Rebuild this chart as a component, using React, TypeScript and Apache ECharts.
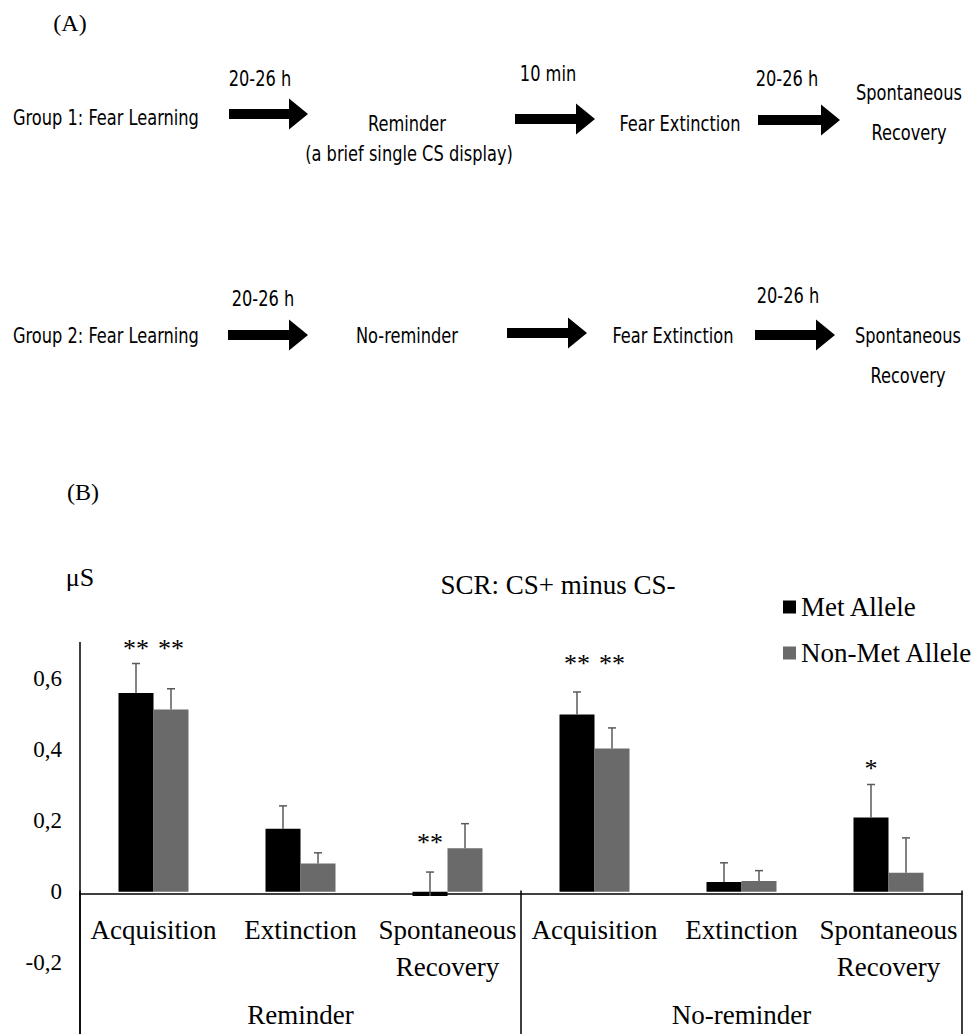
import React, { useEffect, useRef } from "react";
import * as echarts from "echarts";

// ---------- data ----------
const categories = [
  "Acquisition",
  "Extinction",
  "Spontaneous\nRecovery",
  "Acquisition",
  "Extinction",
  "Spontaneous\nRecovery",
];
const groups = ["Reminder", "No-reminder"];
const seriesNames = ["Met Allele", "Non-Met Allele"];
const metValues = [0.558, 0.177, -0.012, 0.498, 0.027, 0.208];
const metErrors = [0.083, 0.064, 0.067, 0.063, 0.054, 0.093];
const nonMetValues = [0.512, 0.079, 0.122, 0.402, 0.03, 0.053];
const nonMetErrors = [0.058, 0.03, 0.069, 0.058, 0.029, 0.098];
// significance markers
const starCats = [0, 0, 2, 3, 3, 5];
const starSeries = [0, 1, 0, 0, 1, 0];
const starLevels = [0.684, 0.684, 0.138, 0.642, 0.642, 0.345];
const starTexts = ["**", "**", "**", "**", "**", "*"];
const yTickValues = [-0.2, 0, 0.2, 0.4, 0.6];
const yTickLabels = ["-0,2", "0", "0,2", "0,4", "0,6"];
const yMin = -0.4;
const yMax = 0.7;

// diagram texts
const row1Steps = ["Group 1: Fear Learning", "Reminder", "(a brief single CS display)", "Fear Extinction", "Spontaneous", "Recovery"];
const row1Delays = ["20-26 h", "10 min", "20-26 h"];
const row2Steps = ["Group 2: Fear Learning", "No-reminder", "Fear Extinction", "Spontaneous", "Recovery"];
const row2Delays = ["20-26 h", "20-26 h"];

// ---------- layout / style ----------
const SERIF = "'Liberation Serif', 'Times New Roman', serif";
const SANS = "'Liberation Sans Narrow', 'DejaVu Sans Condensed', 'Roboto', sans-serif";
const SANS_SIZE = 22;
const SANS_SCALE = 0.82;
const BAR_W = 35;
const GRID_LEFT = 80;
const GRID_TOP = 642.5;
const GRID_W = 882;
const GRID_H = 394.5;
const COLORS = ["#000000", "#6a6a6a"];
const ERR_COLOR = "#5a5a5a";

function arrow(x0: number, x1: number, cy: number) {
  const hl = 19;
  const sh = 5;
  const hh = 15.5;
  return {
    type: "polygon",
    shape: {
      points: [
        [x0, cy - sh],
        [x1 - hl, cy - sh],
        [x1 - hl, cy - hh],
        [x1, cy],
        [x1 - hl, cy + hh],
        [x1 - hl, cy + sh],
        [x0, cy + sh],
      ],
    },
    style: { fill: "#000" },
  };
}

function txt(text: string, x: number, y: number, size: number, family: string, align = "center", scaleX = 1) {
  return {
    type: "text",
    x,
    y,
    scaleX,
    style: {
      text,
      fill: "#000",
      fontSize: size,
      fontFamily: family,
      align,
      verticalAlign: "middle",
      textAlign: align,
      textVerticalAlign: "middle",
    },
  };
}

function sans(text: string, x: number, y: number, align = "center") {
  return txt(text, x, y, SANS_SIZE, SANS, align, SANS_SCALE);
}

export default function App() {
  const ref = useRef<HTMLDivElement>(null);
  useEffect(() => {
    if (!ref.current) return;
    const chart = echarts.init(ref.current, undefined, { renderer: "svg" });

    const errorData: number[][] = [];
    metValues.forEach((v, i) => errorData.push([i, v, metErrors[i], -1]));
    nonMetValues.forEach((v, i) => errorData.push([i, v, nonMetErrors[i], 1]));
    const starData = starCats.map((c, i) => [c, starLevels[i], starSeries[i] === 0 ? -1 : 1, i]);

    const zeroFrac = yMax / (yMax - yMin);

    const option: any = {
      animation: false,
      backgroundColor: "#fff",
      graphic: [
        txt("(A)", 70, 23, 24, SERIF),
        sans(row1Steps[0], 13, 117, "left"),
        sans(row1Delays[0], 260, 78),
        arrow(229, 308, 114),
        sans(row1Steps[1], 407, 123),
        sans(row1Steps[2], 409, 153),
        sans(row1Delays[1], 548, 73),
        arrow(515, 595, 119),
        sans(row1Steps[3], 680, 123),
        sans(row1Delays[2], 787, 78),
        arrow(758, 840, 120),
        sans(row1Steps[4], 909, 92),
        sans(row1Steps[5], 909, 132),

        sans(row2Steps[0], 13, 335, "left"),
        sans(row2Delays[0], 263, 298),
        arrow(228, 308, 335),
        sans(row2Steps[1], 407, 335),
        arrow(507, 587, 333),
        sans(row2Steps[2], 673, 335),
        sans(row2Delays[1], 788, 295),
        arrow(755, 835, 335),
        sans(row2Steps[3], 908, 335),
        sans(row2Steps[4], 908, 375),

        txt("(B)", 83, 492, 24, SERIF),
        txt("μS", 80, 577, 26, SERIF),
        txt("SCR: CS+ minus CS-", 558, 585, 27, SERIF),
      ],
      legend: {
        data: seriesNames,
        orient: "vertical",
        left: 778,
        top: 587,
        icon: "rect",
        itemWidth: 13,
        itemHeight: 13,
        itemGap: 16,
        textStyle: { fontFamily: SERIF, fontSize: 27, color: "#000", lineHeight: 30 },
      },
      grid: { left: GRID_LEFT, top: GRID_TOP, width: GRID_W, height: GRID_H },
      xAxis: [
        {
          type: "category",
          data: categories,
          position: "top",
          offset: -GRID_H * zeroFrac,
          axisLine: { show: true, onZero: false, lineStyle: { color: "#000", width: 1.5 } },
          axisTick: { show: false },
          splitLine: { show: false },
          axisLabel: {
            inside: true,
            margin: 18,
            interval: 0,
            color: "#000",
            fontFamily: SERIF,
            fontSize: 27,
            lineHeight: 37,
          },
        },
        {
          type: "category",
          data: groups,
          position: "bottom",
          offset: -GRID_H * (1 - zeroFrac),
          axisLine: { show: false, onZero: false },
          axisTick: { show: true, length: 160, lineStyle: { color: "#000", width: 1.5 } },
          splitLine: { show: false },
          axisLabel: {
            margin: 106,
            interval: 0,
            color: "#000",
            fontFamily: SERIF,
            fontSize: 27,
            lineHeight: 37,
          },
        },
      ],
      yAxis: {
        type: "value",
        min: yMin,
        max: yMax,
        interval: 0.2,
        axisLine: { show: true, lineStyle: { color: "#000", width: 1.5 } },
        axisTick: { show: false },
        splitLine: { show: false },
        axisLabel: {
          margin: 18,
          color: "#000",
          fontFamily: SERIF,
          fontSize: 23,
          showMaxLabel: true,
          formatter: (v: number) => {
            const r = Math.round(v * 10) / 10;
            const idx = yTickValues.findIndex((t) => Math.abs(t - r) < 1e-6);
            return idx >= 0 ? yTickLabels[idx] : "";
          },
        },
      },
      series: [
        {
          name: seriesNames[0],
          type: "bar",
          xAxisIndex: 0,
          data: metValues,
          barWidth: BAR_W,
          barGap: "0%",
          itemStyle: { color: COLORS[0] },
          z: 2,
        },
        {
          name: seriesNames[1],
          type: "bar",
          xAxisIndex: 0,
          data: nonMetValues,
          barWidth: BAR_W,
          barGap: "0%",
          itemStyle: { color: COLORS[1] },
          z: 2,
        },
        {
          type: "custom",
          xAxisIndex: 0,
          silent: true,
          z: 3,
          data: errorData,
          encode: { x: 0, y: 1 },
          renderItem: (params: any, api: any) => {
            const c = api.value(0);
            const v = api.value(1);
            const e = api.value(2);
            const side = api.value(3);
            const p0 = api.coord([c, v]);
            const p1 = api.coord([c, v + e]);
            const x = p0[0] + (side * BAR_W) / 2;
            const st = { stroke: ERR_COLOR, lineWidth: 1.5 };
            return {
              type: "group",
              children: [
                { type: "line", shape: { x1: x, y1: p0[1], x2: x, y2: p1[1] }, style: st },
                { type: "line", shape: { x1: x - 4, y1: p1[1], x2: x + 4, y2: p1[1] }, style: st },
              ],
            };
          },
        },
        {
          type: "custom",
          xAxisIndex: 0,
          silent: true,
          z: 4,
          data: starData,
          encode: { x: 0, y: 1 },
          renderItem: (params: any, api: any) => {
            const c = api.value(0);
            const v = api.value(1);
            const side = api.value(2);
            const k = api.value(3);
            const p = api.coord([c, v]);
            return {
              type: "text",
              x: p[0] + (side * BAR_W) / 2,
              y: p[1],
              style: {
                text: starTexts[k],
                fill: "#000",
                fontSize: 26,
                fontFamily: SERIF,
                align: "center",
                verticalAlign: "middle",
              },
            };
          },
        },
      ],
    };
    chart.setOption(option);
    return () => chart.dispose();
  }, []);

  return (
    <div
      ref={ref}
      style={{ position: "absolute", left: 0, top: 0, width: 973, height: 1034, overflow: "hidden" }}
    />
  );
}
